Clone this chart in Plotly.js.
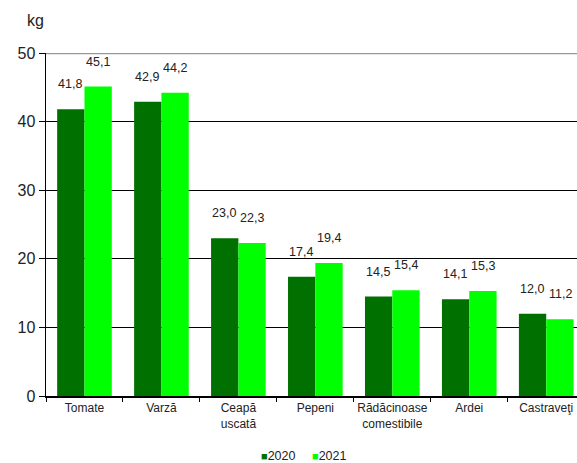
<!DOCTYPE html>
<html>
<head>
<meta charset="utf-8">
<script src="https://cdn.plot.ly/plotly-3.0.1.min.js"></script>
<style>html,body{margin:0;padding:0;background:#fff;}#chart{width:577px;height:463px;}</style>
</head>
<body>
<div id="chart"></div>
<script>
const categories = ["Tomate", "Varză", "Ceapă<br>uscată", "Pepeni", "Rădăcinoase<br>comestibile", "Ardei", "Castraveţi"];
const values2020 = [41.8, 42.9, 23.0, 17.4, 14.5, 14.1, 12.0];
const values2021 = [45.1, 44.2, 22.3, 19.4, 15.4, 15.3, 11.2];
const seriesNames = ["2020", "2021"];
const yTicks = [0, 10, 20, 30, 40, 50];

const colors = ["#007000", "#00FF00"];
const fmt = v => v.toFixed(1).replace(".", ",");
const FONT = "Liberation Sans, Arial, sans-serif";

const traces = [values2020, values2021].map((vals, i) => ({
  type: "bar",
  name: seriesNames[i],
  x: categories,
  y: vals,
  marker: {color: colors[i], line: {width: 0}},
  hoverinfo: "none",
  showlegend: false
}));

const annotations = [];
[values2020, values2021].forEach((vals, i) => {
  vals.forEach((v, j) => {
    annotations.push({
      x: categories[j], y: v, xref: "x", yref: "y",
      text: fmt(v), showarrow: false,
      xshift: i === 0 ? -14 : 14, yshift: 25,
      yanchor: "middle",
      font: {family: FONT, size: 12.5, color: "#222"}
    });
  });
});
annotations.push({
  text: "kg", xref: "paper", yref: "paper", x: -0.02, y: 1.0, yshift: 33,
  xanchor: "center", yanchor: "middle", showarrow: false,
  font: {family: FONT, size: 16, color: "#222"}
});
// custom legend
const legendX = [0.437, 0.534];
seriesNames.forEach((n, i) => {
  annotations.push({
    text: "<span style='color:" + colors[i] + ";font-size:11px'>■</span>" + n,
    xref: "paper", yref: "paper", x: legendX[i], y: 0, yshift: -60,
    xanchor: "center", yanchor: "middle", showarrow: false,
    font: {family: FONT, size: 12.5, color: "#222"}
  });
});

const layout = {
  width: 577, height: 463,
  margin: {l: 46, r: 0, t: 53, b: 67},
  paper_bgcolor: "#fff", plot_bgcolor: "#fff",
  barmode: "group", bargap: 0.29, bargroupgap: 0,
  font: {family: FONT, color: "#222"},
  xaxis: {
    type: "category",
    range: [-0.5, 6.4],
    automargin: false,
    tickangle: 0,
    showline: true, linecolor: "#000", linewidth: 1.5,
    ticks: "outside", tickson: "boundaries", ticklen: 4, tickcolor: "#000",
    showgrid: false,
    tickfont: {size: 12, color: "#222"},
    fixedrange: true
  },
  yaxis: {
    range: [0, 50],
    automargin: false,
    tickvals: yTicks,
    ticktext: yTicks.map(String),
    showline: true, linecolor: "#000", linewidth: 1.5,
    ticks: "outside", ticklen: 6, tickcolor: "#000",
    showgrid: true, gridcolor: "#000", gridwidth: 1,
    zeroline: false,
    tickfont: {size: 16, color: "#222"},
    fixedrange: true
  },
  shapes: [{
    type: "line", xref: "paper", yref: "y", x0: 0, x1: 1, y0: 50, y1: 50,
    line: {color: "#999", width: 2.5}, layer: "above"
  }],
  showlegend: false,
  annotations: annotations
};

Plotly.newPlot("chart", traces, layout, {displayModeBar: false, staticPlot: true});
</script>
</body>
</html>
